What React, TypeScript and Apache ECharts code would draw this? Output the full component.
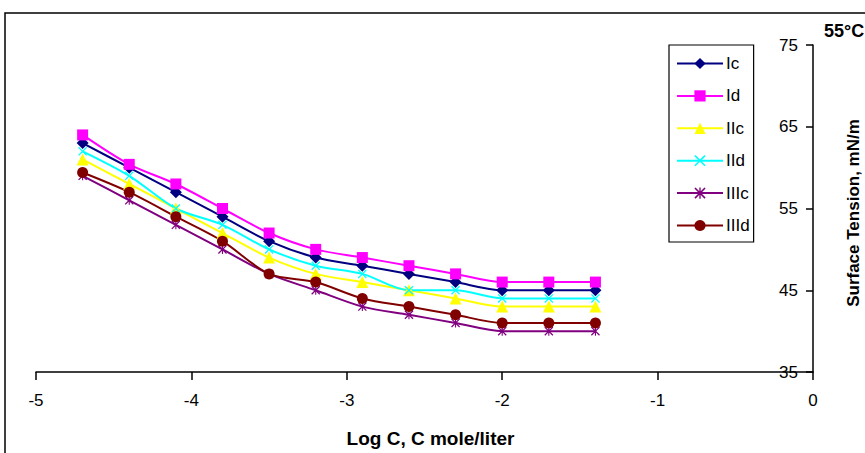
import React, { useEffect, useRef } from "react";
import * as echarts from "echarts";

const xValues = [-4.7, -4.4, -4.1, -3.8, -3.5, -3.2, -2.9, -2.6, -2.3, -2.0, -1.7, -1.4];
const seriesNames = ["Ic", "Id", "IIc", "IId", "IIIc", "IIId"];
const Ic = [63, 60, 57, 54, 51, 49, 48, 47, 46, 45, 45, 45];
const Id = [64, 60.4, 58, 55, 52, 50, 49, 48, 47, 46, 46, 46];
const IIc = [61, 58, 55, 52, 49, 47, 46, 45, 44, 43, 43, 43];
const IId = [62, 59, 55, 53, 50, 48, 47, 45, 45, 44, 44, 44];
const IIIc = [59, 56, 53, 50, 47, 45, 43, 42, 41, 40, 40, 40];
const IIId = [59.4, 57, 54, 51, 47, 46, 44, 43, 42, 41, 41, 41];
const xTicks = [-5, -4, -3, -2, -1, 0];
const yTicks = [35, 45, 55, 65, 75];

const X_PATH = "path://M0,1 L1,0 L5,4 L9,0 L10,1 L6,5 L10,9 L9,10 L5,6 L1,10 L0,9 L4,5 Z";
const STAR_PATH =
  "path://M0,1 L1,0 L10,9 L9,10 Z M9,0 L10,1 L1,10 L0,9 Z M4.4,0 L5.6,0 L5.6,10 L4.4,10 Z";

const styles = [
  { color: "#000080", symbol: "diamond", size: 12 },
  { color: "#FF00FF", symbol: "rect", size: 11 },
  { color: "#FFFF00", symbol: "triangle", size: 12 },
  { color: "#00FFFF", symbol: X_PATH, size: 9 },
  { color: "#800080", symbol: STAR_PATH, size: 9 },
  { color: "#800000", symbol: "circle", size: 11 },
];

const FONT = "Arial, 'Liberation Sans', sans-serif";

export default function App() {
  const ref = useRef<HTMLDivElement>(null);
  useEffect(() => {
    if (!ref.current) return;
    const chart = echarts.init(ref.current, undefined, { renderer: "svg" });
    const allData = [Ic, Id, IIc, IId, IIIc, IIId];
    chart.setOption({
      animation: false,
      backgroundColor: "#fff",
      textStyle: { fontFamily: FONT },
      grid: { left: 36, top: 45, width: 777, height: 336 },
      xAxis: {
        type: "value",
        min: xTicks[0],
        max: xTicks[xTicks.length - 1],
        interval: 1,
        axisLine: { onZero: false, lineStyle: { color: "#000", width: 1.5 } },
        axisTick: { show: true, length: 8, lineStyle: { color: "#000", width: 1.5 } },
        axisLabel: { color: "#000", fontSize: 17, margin: 20, fontFamily: FONT },
        splitLine: { show: false },
        name: "Log C, C mole/liter",
        nameLocation: "middle",
        nameGap: 57,
        nameTextStyle: { color: "#000", fontSize: 19, fontWeight: "bold", fontFamily: FONT, padding: [0, 0, 0, 12] },
      },
      yAxis: {
        type: "value",
        position: "right",
        min: yTicks[0],
        max: yTicks[yTicks.length - 1],
        interval: 10,
        axisLine: { show: true, onZero: false, lineStyle: { color: "#000", width: 1.5 } },
        axisTick: { show: true, inside: true, length: 7, lineStyle: { color: "#000", width: 1.5 } },
        axisLabel: { inside: true, color: "#000", fontSize: 17, margin: 15, fontFamily: FONT },
        splitLine: { show: false },
      },
      legend: {
        orient: "vertical",
        left: 669,
        top: 45,
        itemWidth: 46,
        itemHeight: 14,
        itemGap: 15.4,
        padding: [10, 4, 8, 7],
        borderColor: "#000",
        borderWidth: 1.2,
        textStyle: { color: "#000", fontSize: 17, fontFamily: FONT, padding: [0, 0, 0, -2] },
        data: seriesNames,
      },
      series: seriesNames.map((name, i) => ({
        name,
        type: "line",
        smooth: 0.3,
        data: xValues.map((x, j) => [x, allData[i][j]]),
        symbol: styles[i].symbol,
        symbolSize: styles[i].size,
        showAllSymbol: true,
        lineStyle: { color: styles[i].color, width: 2 },
        itemStyle: { color: styles[i].color },
        emphasis: { disabled: true },
      })),
      graphic: [
        {
          type: "rect",
          shape: { x: 5, y: 13, width: 900, height: 500 },
          style: { fill: "none", stroke: "#000", lineWidth: 1.5 },
          silent: true,
        },
        {
          type: "text",
          left: 824,
          top: 22,
          style: { text: "55°C", font: `bold 18px ${FONT}`, fill: "#000" },
        },
        {
          type: "text",
          x: 853,
          y: 213,
          rotation: Math.PI / 2,
          style: {
            text: "Surface Tension, mN/m",
            font: `bold 17px ${FONT}`,
            fill: "#000",
            align: "center",
            verticalAlign: "middle",
          },
        },
      ],
    });
    return () => chart.dispose();
  }, []);
  return (
    <div
      ref={ref}
      style={{ position: "fixed", left: 0, top: 0, width: 865, height: 453 }}
    />
  );
}
